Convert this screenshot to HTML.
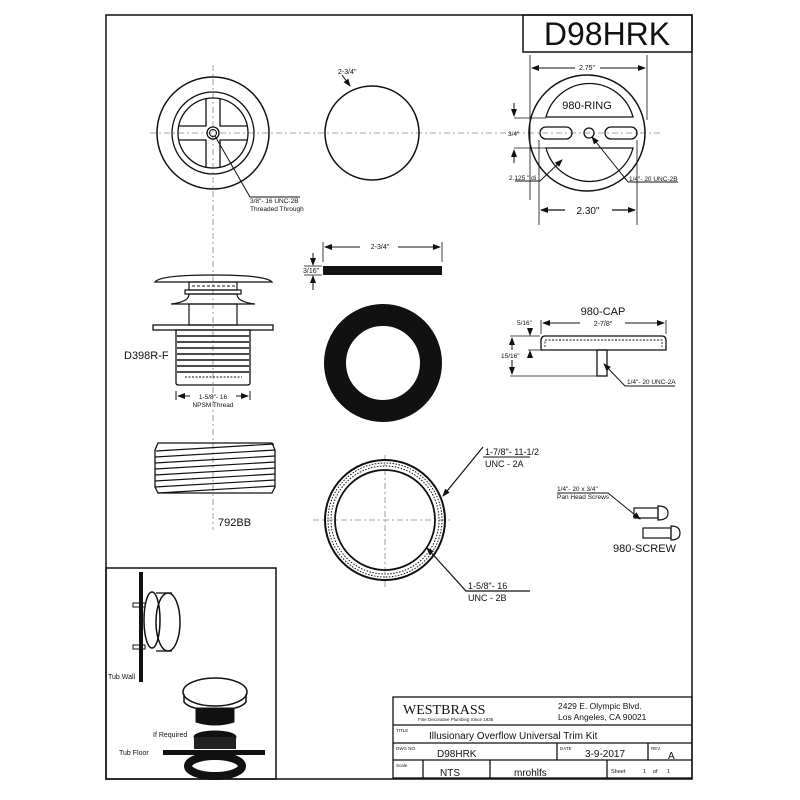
<!DOCTYPE html>
<html><head><meta charset="utf-8"><style>
html,body{margin:0;padding:0;background:#fff}
svg{display:block}
text{font-family:"Liberation Sans",sans-serif;fill:#111}
</style></head><body>
<svg width="800" height="800" viewBox="0 0 800 800" xmlns="http://www.w3.org/2000/svg">
<defs>
<marker id="ar" markerWidth="8" markerHeight="8" refX="7" refY="4" orient="auto" markerUnits="userSpaceOnUse"><path d="M0,1 L8,4 L0,7 z" fill="#111"/></marker>
</defs>
<g fill="none" stroke="#111">
<rect x="106" y="15" width="586" height="764" stroke-width="1.5"/>
<rect x="523" y="15" width="169" height="37" stroke-width="1.5"/>
<rect x="106" y="568" width="170" height="211" stroke-width="1.5"/>
<g stroke="#888" stroke-width="0.8" stroke-dasharray="6,3,2,3">
<line x1="150" y1="133" x2="660" y2="133"/>
<line x1="213" y1="65" x2="213" y2="530"/>
<line x1="385" y1="455" x2="385" y2="590"/>
<line x1="313" y1="520" x2="450" y2="520"/>
</g>
<circle cx="213" cy="133" r="56" stroke-width="1.5"/>
<circle cx="213" cy="133" r="41" stroke-width="1.3"/>
<circle cx="213" cy="133" r="35" stroke-width="1.3"/>
<path d="M206,99 V126 H179 M220,99 V126 H247 M206,167 V140 H179 M220,167 V140 H247" stroke-width="1.3"/>
<circle cx="213" cy="133" r="6" stroke-width="1.3"/>
<circle cx="213" cy="133" r="3.5" stroke-width="1"/>
<path d="M215,136 L250,197 H300" stroke-width="1"/>
<circle cx="372" cy="133" r="47" stroke-width="1.5"/>
<path d="M342,75 L350,86" stroke-width="1" marker-end="url(#ar)"/>
<circle cx="587" cy="133" r="58" stroke-width="1.5"/>
<path d="M546,117 A45,45 0 0 1 633,117 Z" stroke-width="1.3"/>
<path d="M546,148 A45,45 0 0 0 633,148 Z" stroke-width="1.3"/>
<rect x="540" y="127" width="32" height="12" rx="6" stroke-width="1.3"/>
<rect x="605" y="127" width="32" height="12" rx="6" stroke-width="1.3"/>
<circle cx="589" cy="133" r="5" stroke-width="1.3"/>
<line x1="530" y1="55" x2="530" y2="200" stroke-width="0.8"/>
<line x1="647" y1="55" x2="647" y2="120" stroke-width="0.8"/>
<line x1="600" y1="68" x2="645" y2="68" stroke-width="1" marker-end="url(#ar)"/>
<line x1="575" y1="68" x2="532" y2="68" stroke-width="1" marker-end="url(#ar)"/>
<line x1="539" y1="140" x2="539" y2="225" stroke-width="0.8"/>
<line x1="637" y1="140" x2="637" y2="225" stroke-width="0.8"/>
<line x1="565" y1="210" x2="541" y2="210" stroke-width="1.3" marker-end="url(#ar)"/>
<line x1="612" y1="210" x2="635" y2="210" stroke-width="1.3" marker-end="url(#ar)"/>
<line x1="514" y1="118" x2="546" y2="118" stroke-width="0.8"/>
<line x1="514" y1="148" x2="546" y2="148" stroke-width="0.8"/>
<line x1="514" y1="103" x2="514" y2="116" stroke-width="1" marker-end="url(#ar)"/>
<line x1="514" y1="163" x2="514" y2="150" stroke-width="1" marker-end="url(#ar)"/>
<path d="M515,181 H540 L562,160" stroke-width="1" marker-end="url(#ar)"/>
<path d="M678,182 H628 L592,137" stroke-width="1" marker-end="url(#ar)"/>
<rect x="323" y="266" width="119" height="9" fill="#111" stroke="none"/>
<line x1="323" y1="242" x2="323" y2="262" stroke-width="0.8"/>
<line x1="442" y1="242" x2="442" y2="262" stroke-width="0.8"/>
<line x1="360" y1="247" x2="325" y2="247" stroke-width="1" marker-end="url(#ar)"/>
<line x1="398" y1="247" x2="440" y2="247" stroke-width="1" marker-end="url(#ar)"/>
<line x1="304" y1="266" x2="322" y2="266" stroke-width="0.8"/>
<line x1="304" y1="275" x2="322" y2="275" stroke-width="0.8"/>
<line x1="313" y1="253" x2="313" y2="265" stroke-width="1" marker-end="url(#ar)"/>
<line x1="313" y1="290" x2="313" y2="276" stroke-width="1" marker-end="url(#ar)"/>
<circle cx="383" cy="363" r="48" stroke-width="22"/>
<circle cx="385" cy="520" r="60" stroke-width="2"/>
<circle cx="385" cy="520" r="50" stroke-width="1.8"/>
<circle cx="385" cy="520" r="57" stroke-width="1" stroke-dasharray="1.5,1.5"/>
<circle cx="385" cy="520" r="54" stroke-width="1" stroke-dasharray="1.5,1.5"/>
<path d="M483,447 L443,496" stroke-width="1.2" marker-end="url(#ar)"/>
<path d="M530,591 H466 L427,548" stroke-width="1.2" marker-end="url(#ar)"/>
<line x1="483" y1="457" x2="530" y2="457" stroke-width="1"/>
<path d="M155,282 Q160,275 213,275 Q266,275 272,282 Z" stroke-width="1.3"/>
<rect x="189" y="282" width="48" height="8" stroke-width="1.2"/>
<line x1="192" y1="286" x2="235" y2="286" stroke-width="1" stroke-dasharray="3,2"/>
<rect x="185" y="290" width="56" height="4" stroke-width="1.2"/>
<path d="M171,304 Q189,302 189,294 H237 Q237,302 255,304 Z" stroke-width="1.2"/>
<rect x="189" y="304" width="48" height="21" stroke-width="1.2"/>
<rect x="153" y="325" width="120" height="5" stroke-width="1.3"/>
<path d="M176,330 H250 V383 Q250,385 247,385 H179 Q176,385 176,383 Z" stroke-width="1.3"/>
<g stroke-width="1.5">
<line x1="177" y1="336" x2="249" y2="336"/><line x1="177" y1="342" x2="249" y2="342"/><line x1="177" y1="348" x2="249" y2="348"/><line x1="177" y1="354" x2="249" y2="354"/><line x1="177" y1="360" x2="249" y2="360"/><line x1="177" y1="366" x2="249" y2="366"/><line x1="177" y1="372" x2="249" y2="372"/>
</g>
<line x1="185" y1="377" x2="242" y2="377" stroke-width="1" stroke-dasharray="2,1.5"/>
<line x1="176" y1="391" x2="176" y2="400" stroke-width="1"/>
<line x1="250" y1="391" x2="250" y2="400" stroke-width="1"/>
<line x1="190" y1="396" x2="178" y2="396" stroke-width="1" marker-end="url(#ar)"/>
<line x1="236" y1="396" x2="248" y2="396" stroke-width="1" marker-end="url(#ar)"/>
<path d="M158,443 H272 L275,450 V487 L272,493 H158 L155,487 V450 Z" stroke-width="1.3"/>
<g stroke-width="1.2">
<line x1="156" y1="451" x2="274" y2="444"/><line x1="155" y1="457" x2="275" y2="450"/><line x1="155" y1="463" x2="275" y2="456"/><line x1="155" y1="469" x2="275" y2="462"/><line x1="155" y1="475" x2="275" y2="468"/><line x1="155" y1="481" x2="275" y2="474"/><line x1="155" y1="487" x2="275" y2="480"/><line x1="158" y1="493" x2="275" y2="486"/>
</g>
<path d="M545,336 H662 Q666,336 666,341 V350 H541 V341 Q541,336 545,336 Z" stroke-width="1.3"/>
<path d="M545,347 V340 H662 V347" stroke-width="0.9" stroke-dasharray="2,1.5"/>
<rect x="597" y="350" width="10" height="26" stroke-width="1.3"/>
<line x1="541" y1="320" x2="541" y2="334" stroke-width="0.8"/>
<line x1="666" y1="320" x2="666" y2="334" stroke-width="0.8"/>
<line x1="580" y1="323" x2="543" y2="323" stroke-width="1" marker-end="url(#ar)"/>
<line x1="625" y1="323" x2="664" y2="323" stroke-width="1" marker-end="url(#ar)"/>
<line x1="510" y1="336" x2="540" y2="336" stroke-width="0.8"/>
<line x1="528" y1="350" x2="540" y2="350" stroke-width="0.8"/>
<line x1="510" y1="376" x2="597" y2="376" stroke-width="0.8"/>
<line x1="530" y1="329" x2="530" y2="335" stroke-width="1" marker-end="url(#ar)"/>
<line x1="530" y1="358" x2="530" y2="351" stroke-width="1" marker-end="url(#ar)"/>
<line x1="512" y1="350" x2="512" y2="338" stroke-width="1" marker-end="url(#ar)"/>
<line x1="512" y1="360" x2="512" y2="374" stroke-width="1" marker-end="url(#ar)"/>
<path d="M675,386 H625 L604,364" stroke-width="1" marker-end="url(#ar)"/>
<path d="M557,493 H608 L640,519" stroke-width="1" marker-end="url(#ar)"/>
<rect x="634" y="508" width="24" height="10" stroke-width="1.2"/>
<path d="M658,506 Q668,506 668,513 Q668,520 658,520 Z" stroke-width="1.2"/>
<rect x="643" y="528" width="28" height="10" stroke-width="1.2"/>
<path d="M671,526 Q680,526 680,533 Q680,540 671,540 Z" stroke-width="1.2"/>
<rect x="139" y="572" width="4" height="110" fill="#111" stroke="none"/>
<ellipse cx="152" cy="620" rx="8" ry="28" stroke-width="1.5"/>
<ellipse cx="168" cy="622" rx="12" ry="29" stroke-width="1.5"/>
<line x1="156" y1="593" x2="172" y2="593" stroke-width="1.3"/>
<line x1="156" y1="651" x2="172" y2="651" stroke-width="1.3"/>
<rect x="133" y="603" width="12" height="4" stroke-width="1"/>
<rect x="133" y="645" width="12" height="4" stroke-width="1"/>
<ellipse cx="215" cy="692" rx="32" ry="14" stroke-width="1.5"/>
<path d="M184,694 V702 Q190,710 215,710 Q240,710 246,702 V694" stroke-width="1.5"/>
<path d="M196,708 V722 Q215,728 234,722 V708 Z" fill="#111"/>
<ellipse cx="215" cy="737" rx="21" ry="6" fill="#111" stroke-width="1"/>
<rect x="194" y="737" width="42" height="12" fill="#222" stroke="none"/>
<rect x="163" y="750" width="102" height="5" fill="#111" stroke="none"/>
<ellipse cx="215" cy="766" rx="27" ry="10" stroke="#111" stroke-width="8"/>
<g stroke-width="1.3">
<rect x="393" y="697" width="299" height="81"/>
<line x1="393" y1="725" x2="692" y2="725"/>
<line x1="393" y1="743" x2="692" y2="743"/>
<line x1="393" y1="760" x2="692" y2="760"/>
<line x1="557" y1="743" x2="557" y2="760"/>
<line x1="648" y1="743" x2="648" y2="760"/>
<line x1="423" y1="760" x2="423" y2="778"/>
<line x1="490" y1="760" x2="490" y2="778"/>
<line x1="607" y1="760" x2="607" y2="778"/>
</g>
</g>
<text x="607" y="45" font-size="32" text-anchor="middle">D98HRK</text>
<text x="250" y="203" font-size="6.5">3/8"- 16 UNC-2B</text>
<text x="250" y="211" font-size="6.5">Threaded Through</text>
<text x="338" y="74" font-size="7">2-3/4"</text>
<text x="587" y="70" font-size="7" text-anchor="middle">2.75"</text>
<text x="587" y="109" font-size="11" text-anchor="middle">980-RING</text>
<text x="508" y="136" font-size="6.5">3/4"</text>
<text x="509" y="180" font-size="6.5">2.125 " di</text>
<text x="629" y="181" font-size="6.5">1/4"- 20 UNC-2B</text>
<text x="588" y="214" font-size="10" text-anchor="middle">2.30"</text>
<text x="380" y="249" font-size="7" text-anchor="middle">2-3/4"</text>
<text x="303" y="273" font-size="7">3/16"</text>
<text x="124" y="359" font-size="11">D398R-F</text>
<text x="213" y="399" font-size="6.5" text-anchor="middle">1-5/8"- 16</text>
<text x="213" y="407" font-size="6.5" text-anchor="middle">NPSM Thread</text>
<text x="218" y="526" font-size="11">792BB</text>
<text x="603" y="315" font-size="11" text-anchor="middle">980-CAP</text>
<text x="603" y="326" font-size="7" text-anchor="middle">2-7/8"</text>
<text x="517" y="325" font-size="6.5">5/16"</text>
<text x="501" y="358" font-size="6.5">15/16"</text>
<text x="627" y="384" font-size="6.5">1/4"- 20 UNC-2A</text>
<text x="485" y="455" font-size="9">1-7/8"- 11-1/2</text>
<text x="485" y="467" font-size="9">UNC - 2A</text>
<text x="468" y="589" font-size="9">1-5/8"- 16</text>
<text x="468" y="601" font-size="9">UNC - 2B</text>
<text x="557" y="491" font-size="6.5">1/4"- 20 x 3/4"</text>
<text x="557" y="499" font-size="6.5">Pan Head Screws</text>
<text x="613" y="552" font-size="11">980-SCREW</text>
<text x="108" y="679" font-size="7">Tub Wall</text>
<text x="153" y="737" font-size="7">If Required</text>
<text x="119" y="755" font-size="7">Tub Floor</text>
<text x="403" y="714" font-size="14" style="font-family:'Liberation Serif',serif">WESTBRASS</text>
<text x="418" y="721" font-size="4.5">Fine Decorative Plumbing Since 1935</text>
<text x="558" y="709" font-size="8.5">2429 E. Olympic Blvd.</text>
<text x="558" y="720" font-size="8.5">Los Angeles, CA 90021</text>
<text x="396" y="732" font-size="4.5">TITLE</text>
<text x="429" y="739" font-size="10">Illusionary Overflow Universal Trim Kit</text>
<text x="396" y="750" font-size="4.5">DWG NO.</text>
<text x="437" y="757" font-size="10">D98HRK</text>
<text x="560" y="750" font-size="4.5">DATE</text>
<text x="585" y="757" font-size="10">3-9-2017</text>
<text x="651" y="750" font-size="4.5">REV</text>
<text x="668" y="759" font-size="10">A</text>
<text x="396" y="767" font-size="4.5">Scale</text>
<text x="440" y="776" font-size="10">NTS</text>
<text x="514" y="776" font-size="10">mrohlfs</text>
<text x="611" y="773" font-size="5.5">Sheet</text>
<text x="643" y="773" font-size="5.5">1</text>
<text x="653" y="773" font-size="5.5">of</text>
<text x="667" y="773" font-size="5.5">1</text>
</svg>
</body></html>
